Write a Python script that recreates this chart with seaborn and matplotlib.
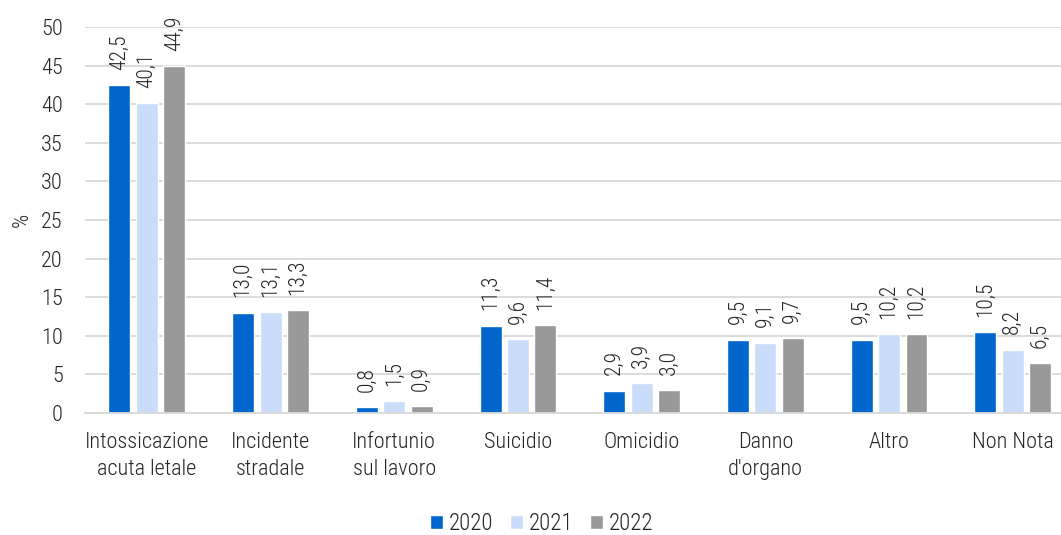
import pandas as pd
import matplotlib.pyplot as plt
import seaborn as sns
from matplotlib import font_manager


categories = [
    "Intossicazione\nacuta letale",
    "Incidente\nstradale",
    "Infortunio\nsul lavoro",
    "Suicidio",
    "Omicidio",
    "Danno\nd'organo",
    "Altro",
    "Non Nota",
]
years = ["2020", "2021", "2022"]
v2020 = [42.5, 13.0, 0.8, 11.3, 2.9, 9.5, 9.5, 10.5]
v2021 = [40.1, 13.1, 1.5, 9.6, 3.9, 9.1, 10.2, 8.2]
v2022 = [44.9, 13.3, 0.9, 11.4, 3.0, 9.7, 10.2, 6.5]
colors = ["#0066CC", "#C9DDFA", "#999999"]

df = pd.DataFrame({
    "Causa": categories * 3,
    "Anno": [y for y in years for _ in categories],
    "Valore": v2020 + v2021 + v2022,
})

sns.set_style("white")
names = {f.name for f in font_manager.fontManager.ttflist}
fam = ["Liberation Sans Narrow", "Roboto Condensed", "Liberation Sans", "DejaVu Sans"]
plt.rcParams["font.family"] = [f for f in fam if f in names] or ["DejaVu Sans"]
plt.rcParams["font.weight"] = "light"
plt.rcParams["axes.labelweight"] = "light"

txt = "#262626"

fig = plt.figure(figsize=(10.61, 5.35), dpi=100)
ax = fig.add_axes([85 / 1061, 1 - 413 / 535, 1 - 85 / 1061, 386 / 535])

sns.barplot(
    data=df,
    x="Causa",
    y="Valore",
    hue="Anno",
    palette=colors,
    saturation=1,
    width=0.665,
    gap=0.2,
    ax=ax,
)

for cont in ax.containers:
    ax.bar_label(
        cont,
        labels=[f"{v:.1f}".replace(".", ",") for v in cont.datavalues],
        rotation=90,
        padding=11,
        fontsize=15.5,
        color=txt,
    )

ax.set_ylim(0, 50)
ax.set_yticks(range(0, 51, 5))
ax.set_xlim(-0.5, 7.39)
ax.grid(axis="y", color="#D9D9D9", linewidth=1.3)
ax.set_axisbelow(True)
for s in ["top", "right", "left"]:
    ax.spines[s].set_visible(False)
ax.spines["bottom"].set_color("#D9D9D9")
ax.spines["bottom"].set_linewidth(1.3)
ax.tick_params(axis="both", labelsize=16, colors=txt, length=0)
ax.tick_params(axis="x", pad=14)
ax.tick_params(axis="y", pad=16)
for lab in ax.get_xticklabels():
    lab.set_linespacing(1.35)
ax.set_xlabel("")
ax.set_ylabel("%", fontsize=16, color=txt, labelpad=6, fontweight="light")

ax.legend(
    loc="lower center",
    bbox_to_anchor=(0.468, -0.37),
    ncol=3,
    frameon=False,
    fontsize=16.5,
    handlelength=0.55,
    handleheight=0.55,
    handletextpad=0.25,
    columnspacing=0.75,
)

plt.savefig("out.png", dpi=100)
plt.close()
